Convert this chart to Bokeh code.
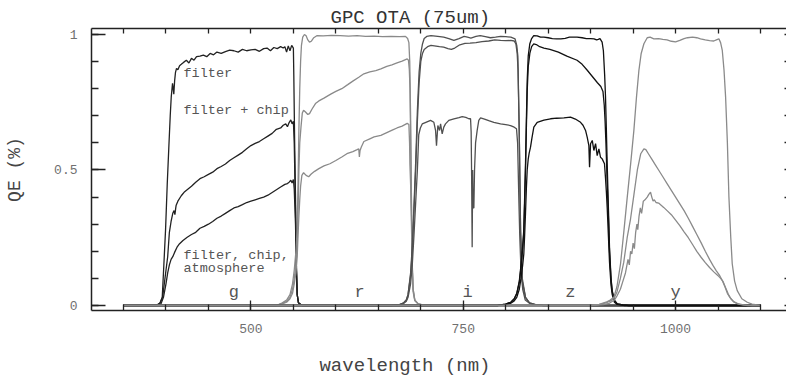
from bokeh.plotting import figure
from bokeh.layouts import column
from bokeh.models import Range1d, LinearAxis, SingleIntervalTicker, FixedTicker, CustomJSTickFormatter, Label, Title
from bokeh.embed import file_html
from bokeh.resources import INLINE

FONT = "Liberation Mono"

# ---------------- data (wavelength nm, QE fraction) ----------------
g_filter_nm = [350, 385, 390, 393, 395.6, 397.5, 399.5, 401.5, 403.3, 405, 406.2, 407.7, 408.5, 409.2, 410.2, 411.2, 412.4, 414, 416, 418, 421, 424, 427, 430, 433, 436, 440, 444, 448, 452, 456, 460, 465, 470, 475, 480, 485, 490, 495, 500, 505, 510, 515, 519, 523, 527, 531, 535, 538, 540, 542, 544, 546, 548, 550, 550.5, 551.5, 552.5, 553.5, 554.5, 556, 560, 570, 1100]
g_filter_qe = [0, 0, 0.003, 0.01, 0.03, 0.15, 0.28, 0.45, 0.58, 0.70, 0.77, 0.82, 0.80, 0.78, 0.83, 0.86, 0.875, 0.87, 0.885, 0.89, 0.898, 0.905, 0.895, 0.912, 0.905, 0.918, 0.92, 0.924, 0.918, 0.93, 0.925, 0.935, 0.93, 0.937, 0.942, 0.94, 0.935, 0.945, 0.94, 0.943, 0.945, 0.938, 0.948, 0.95, 0.94, 0.952, 0.948, 0.955, 0.95, 0.955, 0.935, 0.958, 0.94, 0.96, 0.95, 0.85, 0.6, 0.4, 0.15, 0.04, 0.01, 0, 0, 0]

g_chip_nm = [350, 388, 393, 396, 398, 400, 402, 404, 406, 408, 409.5, 410.5, 411.5, 412, 414, 418, 422, 426, 430, 435, 440, 445, 450, 455, 460, 465, 470, 475, 480, 485, 490, 495, 500, 505, 510, 515, 520, 525, 530, 535, 538, 541, 543, 545, 547, 548.5, 550, 551, 552.5, 553.5, 554.5, 556, 560, 1100]
g_chip_qe = [0, 0, 0.008, 0.03, 0.08, 0.13, 0.18, 0.27, 0.31, 0.34, 0.35, 0.335, 0.36, 0.37, 0.385, 0.405, 0.42, 0.43, 0.44, 0.455, 0.468, 0.475, 0.484, 0.492, 0.505, 0.513, 0.522, 0.535, 0.545, 0.555, 0.565, 0.578, 0.59, 0.598, 0.605, 0.615, 0.625, 0.635, 0.65, 0.655, 0.665, 0.67, 0.66, 0.675, 0.685, 0.67, 0.68, 0.6, 0.35, 0.15, 0.04, 0.01, 0, 0]

g_atm_nm = [350, 390, 394, 397, 400, 402, 404, 406, 408, 410, 413, 416, 420, 425, 430, 435, 440, 445, 450, 455, 460, 465, 470, 475, 480, 485, 490, 495, 500, 505, 510, 515, 520, 525, 530, 535, 540, 543, 545, 547, 548.5, 550, 551, 552.5, 553.5, 554.5, 556, 560, 1100]
g_atm_qe = [0, 0, 0.005, 0.03, 0.08, 0.12, 0.15, 0.17, 0.18, 0.195, 0.215, 0.228, 0.24, 0.252, 0.262, 0.27, 0.285, 0.292, 0.30, 0.31, 0.322, 0.33, 0.34, 0.35, 0.36, 0.365, 0.372, 0.38, 0.385, 0.39, 0.395, 0.40, 0.407, 0.417, 0.427, 0.437, 0.447, 0.45, 0.455, 0.462, 0.452, 0.465, 0.43, 0.3, 0.13, 0.04, 0.01, 0, 0]

r_filter_nm = [350, 530, 537, 542, 546, 549, 551, 553, 554.5, 555.5, 556.5, 557.5, 558.5, 559.5, 561, 563, 565, 567, 569, 571, 574, 578, 585, 595, 605, 615, 625, 635, 645, 655, 665, 675, 682, 684.5, 686, 687, 688, 689, 690, 691, 693, 697, 705, 1100]
r_filter_qe = [0, 0, 0.01, 0.02, 0.04, 0.08, 0.13, 0.2, 0.28, 0.45, 0.65, 0.8, 0.9, 0.96, 0.99, 1.0, 0.995, 0.98, 0.972, 0.975, 0.988, 0.996, 0.995, 0.997, 0.996, 0.994, 0.996, 0.993, 0.994, 0.992, 0.993, 0.992, 0.993, 0.985, 0.97, 0.9, 0.7, 0.4, 0.15, 0.06, 0.02, 0.006, 0, 0]

r_chip_nm = [350, 530, 537, 542, 546, 549, 551, 553, 554.5, 555.5, 556.5, 557.5, 559, 560.5, 562, 564, 567, 569, 572, 576, 580, 586, 594, 600, 607, 614, 620, 627, 633, 640, 647, 653, 660, 666, 672, 678, 684, 685.5, 686.5, 687.3, 688, 689, 690, 691, 693, 697, 705, 1100]
r_chip_qe = [0, 0, 0.008, 0.015, 0.03, 0.06, 0.1, 0.15, 0.22, 0.35, 0.5, 0.6, 0.66, 0.71, 0.72, 0.715, 0.705, 0.708, 0.725, 0.745, 0.755, 0.765, 0.78, 0.79, 0.80, 0.815, 0.828, 0.842, 0.855, 0.862, 0.867, 0.873, 0.882, 0.888, 0.895, 0.902, 0.91, 0.905, 0.87, 0.8, 0.62, 0.36, 0.14, 0.06, 0.02, 0.006, 0, 0]

r_atm_nm = [350, 530, 537, 542, 546, 549, 551, 553, 554.5, 555.5, 556.5, 557.5, 558.5, 560, 562, 565, 568, 571, 575, 580, 586, 593, 600, 607, 613, 620, 625, 627, 627.7, 628.5, 630, 633, 640, 645, 653, 660, 667, 672, 678, 684, 686, 686.8, 687.2, 688, 689, 690, 691, 693, 697, 705, 1100]
r_atm_qe = [0, 0, 0.006, 0.012, 0.025, 0.045, 0.08, 0.12, 0.18, 0.26, 0.33, 0.39, 0.44, 0.48, 0.49, 0.48, 0.475, 0.485, 0.495, 0.505, 0.515, 0.523, 0.535, 0.548, 0.56, 0.568, 0.575, 0.578, 0.548, 0.572, 0.585, 0.605, 0.615, 0.622, 0.628, 0.638, 0.648, 0.655, 0.662, 0.672, 0.668, 0.6, 0.52, 0.45, 0.3, 0.13, 0.05, 0.017, 0.005, 0, 0]

i_filter_nm = [350, 665, 675, 680, 683, 685, 688, 690, 692, 694, 696, 698, 700, 702, 704, 707, 712, 720, 727, 733, 739, 745, 751, 755, 759, 765, 770, 776, 782, 788, 794, 800, 806, 811, 813, 814.3, 815.9, 817.5, 819.5, 823.3, 828, 835, 845, 1100]
i_filter_qe = [0, 0, 0.003, 0.01, 0.02, 0.04, 0.12, 0.22, 0.37, 0.53, 0.72, 0.86, 0.93, 0.965, 0.985, 0.993, 0.996, 0.993, 0.99, 0.985, 0.978, 0.985, 0.993, 0.99, 0.987, 0.993, 0.996, 0.992, 0.988, 0.99, 0.993, 0.992, 0.99, 0.984, 0.96, 0.92, 0.65, 0.28, 0.1, 0.03, 0.01, 0.003, 0, 0]

i_chip_nm = [350, 665, 675, 680, 683, 685, 688, 690, 692, 694, 696, 698, 700, 702, 704, 708, 712, 716, 722, 727, 732, 736, 740, 746, 752, 758, 765, 772, 780, 787, 794, 800, 806, 810, 812, 813.5, 814.5, 815.9, 817.5, 819.5, 823.3, 828, 835, 845, 1100]
i_chip_qe = [0, 0, 0.003, 0.01, 0.02, 0.04, 0.11, 0.2, 0.35, 0.5, 0.68, 0.82, 0.9, 0.93, 0.945, 0.955, 0.96, 0.958, 0.955, 0.953, 0.948, 0.945, 0.95, 0.962, 0.967, 0.968, 0.97, 0.974, 0.976, 0.98, 0.978, 0.977, 0.978, 0.976, 0.965, 0.93, 0.87, 0.64, 0.27, 0.09, 0.03, 0.01, 0.003, 0, 0]

i_atm_nm = [350, 665, 675, 680, 683, 685, 688, 690, 692, 694, 696, 697.6, 699.5, 701.7, 706, 711.5, 715.4, 717.4, 718.5, 720.1, 722.1, 723.3, 725.2, 727.1, 729.1, 733, 739, 745, 748.8, 753, 756.6, 758.6, 759.3, 759.8, 760.5, 761.1, 761.6, 762.5, 763.3, 764.5, 766.4, 768.3, 770.4, 775, 780, 786, 793.9, 800, 805.7, 810, 812.7, 814, 815.4, 816.5, 818, 820, 823, 828, 835, 845, 1100]
i_atm_qe = [0, 0, 0.002, 0.008, 0.016, 0.03, 0.08, 0.15, 0.26, 0.38, 0.5, 0.63, 0.655, 0.67, 0.676, 0.683, 0.676, 0.646, 0.59, 0.664, 0.646, 0.67, 0.633, 0.658, 0.67, 0.683, 0.689, 0.693, 0.697, 0.694, 0.689, 0.689, 0.64, 0.5, 0.215, 0.5, 0.36, 0.36, 0.5, 0.6, 0.646, 0.683, 0.692, 0.688, 0.682, 0.676, 0.67, 0.667, 0.664, 0.658, 0.652, 0.6, 0.4, 0.26, 0.13, 0.06, 0.02, 0.008, 0.002, 0, 0]

z_filter_nm = [350, 790, 800, 806, 810, 813, 816, 818, 820, 821.3, 822.3, 823.3, 824.3, 825.3, 826.5, 828.4, 830.5, 833, 837, 841, 845, 850, 855, 860, 865, 870, 875, 880, 884, 890, 895, 900, 904, 907, 909, 911, 913.5, 915, 916.5, 917.5, 918.5, 919.5, 921, 922.2, 924, 925.4, 928, 931.3, 938, 945, 1100]
z_filter_qe = [0, 0, 0.005, 0.012, 0.025, 0.045, 0.09, 0.15, 0.22, 0.28, 0.4, 0.52, 0.68, 0.83, 0.92, 0.966, 0.985, 0.996, 0.995, 0.99, 0.99, 0.988, 0.985, 0.984, 0.984, 0.986, 0.99, 0.99, 0.99, 0.988, 0.985, 0.985, 0.984, 0.98, 0.982, 0.985, 0.972, 0.94, 0.85, 0.77, 0.65, 0.52, 0.35, 0.215, 0.1, 0.055, 0.02, 0.006, 0.002, 0, 0]

z_chip_nm = [350, 790, 800, 806, 810, 813, 816, 818, 820, 821.3, 822.3, 823.3, 824.3, 825.3, 826.5, 828.4, 830.5, 833, 836, 840, 845, 852, 862, 872, 884, 890, 896, 902, 908, 912, 914.5, 916, 917, 918, 919.5, 921, 922.2, 924, 925.4, 928, 931.3, 938, 945, 1100]
z_chip_qe = [0, 0, 0.005, 0.012, 0.024, 0.043, 0.085, 0.14, 0.21, 0.27, 0.38, 0.5, 0.65, 0.79, 0.88, 0.93, 0.955, 0.965, 0.963, 0.955, 0.95, 0.945, 0.935, 0.92, 0.905, 0.89, 0.868, 0.845, 0.822, 0.808, 0.79, 0.74, 0.68, 0.6, 0.45, 0.32, 0.2, 0.095, 0.05, 0.018, 0.006, 0.002, 0, 0]

z_atm_nm = [350, 790, 800, 806, 810, 813, 816, 818, 820, 821.3, 822.3, 823.3, 824.3, 825.3, 826.5, 827.5, 829.2, 831, 833.1, 837.1, 845, 852.8, 860, 868.5, 876.3, 882, 888.1, 891, 894, 896, 897.9, 898.7, 899.9, 901.9, 903.8, 905.8, 907.7, 909.7, 911.6, 913.6, 916.3, 917.5, 918.5, 919.5, 921, 922.2, 924, 925.4, 928, 931.3, 940, 1100]
z_atm_qe = [0, 0, 0.004, 0.008, 0.017, 0.03, 0.06, 0.1, 0.15, 0.19, 0.26, 0.34, 0.43, 0.5, 0.54, 0.56, 0.584, 0.62, 0.658, 0.676, 0.684, 0.689, 0.691, 0.692, 0.695, 0.688, 0.676, 0.665, 0.646, 0.62, 0.59, 0.51, 0.597, 0.609, 0.572, 0.597, 0.553, 0.578, 0.547, 0.541, 0.523, 0.47, 0.42, 0.36, 0.25, 0.16, 0.075, 0.04, 0.012, 0.004, 0, 0]

y_filter_nm = [350, 900, 910, 918, 923, 927.3, 931, 935.2, 939, 943.1, 947, 950.9, 954, 956.8, 959.5, 962.7, 966.6, 970, 974.4, 980, 985, 990, 995, 1000, 1005, 1010, 1014, 1020, 1025, 1029.4, 1035, 1040, 1045, 1048, 1051, 1053, 1055, 1057, 1058.9, 1061, 1062.8, 1065, 1066.7, 1069.5, 1072.6, 1078, 1084.4, 1090, 1096, 1100]
y_filter_qe = [0, 0, 0.004, 0.012, 0.02, 0.03, 0.07, 0.154, 0.27, 0.4, 0.52, 0.646, 0.77, 0.867, 0.93, 0.966, 0.988, 0.99, 0.984, 0.985, 0.982, 0.98, 0.975, 0.973, 0.978, 0.985, 0.988, 0.99, 0.988, 0.984, 0.98, 0.977, 0.976, 0.98, 0.984, 0.97, 0.941, 0.87, 0.769, 0.6, 0.4, 0.25, 0.154, 0.09, 0.055, 0.025, 0.012, 0.005, 0.002, 0]

y_chip_nm = [350, 900, 910, 918, 923, 927.3, 931, 935, 939, 943, 947, 951, 955, 959, 962.7, 965, 968, 972, 976, 980, 985, 990, 995, 1000, 1005, 1010, 1015, 1020, 1025, 1030, 1035, 1040, 1044, 1048, 1052, 1055, 1058, 1061, 1064, 1068, 1073, 1080, 1090, 1100]
y_chip_qe = [0, 0, 0.003, 0.01, 0.016, 0.025, 0.05, 0.1, 0.16, 0.25, 0.32, 0.41, 0.5, 0.56, 0.578, 0.575, 0.56, 0.54, 0.52, 0.5, 0.475, 0.45, 0.425, 0.4, 0.375, 0.35, 0.322, 0.292, 0.262, 0.232, 0.2, 0.17, 0.148, 0.128, 0.11, 0.092, 0.07, 0.045, 0.03, 0.015, 0.007, 0.002, 0, 0]

y_atm_nm = [350, 900, 915, 922, 928, 931, 935, 938, 941, 944, 945.5, 947, 948.5, 950, 951.5, 953, 954.5, 955.5, 957, 958.5, 960, 962, 964, 966.6, 968.5, 970.5, 972, 973.5, 975, 977, 980, 983, 986, 990, 995, 1000, 1005, 1010, 1015, 1020, 1025, 1030, 1035, 1040, 1045, 1050, 1053, 1056, 1059, 1062, 1065, 1069, 1075, 1085, 1100]
y_atm_qe = [0, 0, 0.003, 0.008, 0.02, 0.035, 0.06, 0.09, 0.12, 0.17, 0.15, 0.2, 0.19, 0.23, 0.21, 0.27, 0.3, 0.28, 0.33, 0.36, 0.34, 0.385, 0.39, 0.40, 0.41, 0.418, 0.4, 0.385, 0.39, 0.38, 0.378, 0.37, 0.362, 0.35, 0.335, 0.315, 0.295, 0.272, 0.25, 0.225, 0.2, 0.178, 0.158, 0.14, 0.124, 0.11, 0.1, 0.088, 0.065, 0.042, 0.025, 0.012, 0.004, 0, 0]

band_names = ["g", "r", "i", "z", "y"]
band_label_nm = [480, 628, 755, 876, 1000]
band_label_qe = [0.048, 0.048, 0.048, 0.048, 0.048]
band_colors = ["#222222", "#8a8a8a", "#505050", "#111111", "#8a8a8a"]

curves = [
    [(g_filter_nm, g_filter_qe), (g_chip_nm, g_chip_qe), (g_atm_nm, g_atm_qe)],
    [(r_filter_nm, r_filter_qe), (r_chip_nm, r_chip_qe), (r_atm_nm, r_atm_qe)],
    [(i_filter_nm, i_filter_qe), (i_chip_nm, i_chip_qe), (i_atm_nm, i_atm_qe)],
    [(z_filter_nm, z_filter_qe), (z_chip_nm, z_chip_qe), (z_atm_nm, z_atm_qe)],
    [(y_filter_nm, y_filter_qe), (y_chip_nm, y_chip_qe), (y_atm_nm, y_atm_qe)],
]

note_texts = ["filter", "filter + chip", "filter, chip,", "atmosphere"]
note_nm = [420.6, 420.6, 420.6, 420.6]
note_qe = [0.856, 0.72, 0.185, 0.135]

title_text = "GPC OTA (75um)"
x_label_text = "wavelength (nm)"
y_label_text = "QE (%)"

# axis ticks
x_major_interval = 250
x_minor_ticks = [350, 400, 450, 500, 550, 600, 650, 700, 750, 800, 850, 900, 950, 1000, 1050, 1100]
y_major_interval = 0.5
y_minor_ticks = [0, 0.1, 0.2, 0.3, 0.4, 0.5, 0.6, 0.7, 0.8, 0.9, 1.0]

# ---------------- main figure ----------------
xr = Range1d(312.3, 1130.6)
p = figure(width=786, height=352,
           x_range=xr, y_range=Range1d(-0.0185, 1.0221),
           x_axis_type=None, y_axis_type=None,
           output_backend="svg", toolbar_location=None,
           min_border_left=91, min_border_right=0, min_border_top=28, min_border_bottom=42,
           outline_line_color=None)

AX = "#222222"

def style_axis(ax):
    ax.axis_line_color = AX
    ax.axis_line_width = 1.5
    ax.major_tick_line_color = AX
    ax.minor_tick_line_color = AX
    ax.major_tick_line_width = 1.3
    ax.minor_tick_line_width = 1.3
    ax.major_tick_out = 0
    ax.minor_tick_out = 0
    ax.major_label_text_font = FONT
    ax.major_label_text_font_size = "13px"
    ax.major_label_text_color = "#707070"
    ax.axis_label_text_font = FONT
    ax.axis_label_text_font_size = "18px"
    ax.axis_label_text_font_style = "normal"
    ax.axis_label_text_color = "#444444"

xb = LinearAxis(ticker=SingleIntervalTicker(interval=x_major_interval, num_minor_ticks=5),
                formatter=CustomJSTickFormatter(code="return String(Math.round(tick))"))
style_axis(xb)
xb.major_tick_in = 10
xb.minor_tick_in = 6
xb.major_label_standoff = 13
p.add_layout(xb, "below")

xa = LinearAxis(ticker=FixedTicker(ticks=[], minor_ticks=x_minor_ticks))
style_axis(xa)
xa.minor_tick_in = 5
xa.major_label_standoff = 0
p.add_layout(xa, "above")

tt = Title(text=title_text, align="left", offset=239, standoff=0,
           text_font=FONT, text_font_size="19px", text_font_style="normal", text_color="#333333")
p.add_layout(tt, "above")

yl = LinearAxis(ticker=SingleIntervalTicker(interval=y_major_interval, num_minor_ticks=5),
                formatter=CustomJSTickFormatter(code="return String(Math.round(tick*10)/10)"),
                axis_label=y_label_text)
style_axis(yl)
yl.major_tick_in = 14
yl.minor_tick_in = 7
yl.major_label_standoff = 14
yl.axis_label_standoff = 26
p.add_layout(yl, "left")

yr = LinearAxis(ticker=FixedTicker(ticks=[], minor_ticks=y_minor_ticks))
style_axis(yr)
yr.axis_line_color = None
yr.minor_tick_in = 2
yr.major_label_standoff = 0
p.add_layout(yr, "right")

for band, color in zip(curves, band_colors):
    for nm, qe in band:
        p.line(nm, qe, line_color=color, line_width=1.3)

for t, x, y in zip(band_names, band_label_nm, band_label_qe):
    p.add_layout(Label(x=x, y=y, text=t, text_font=FONT, text_font_size="17px",
                       text_color="#555555", text_align="center", text_baseline="middle"))

for t, x, y in zip(note_texts, note_nm, note_qe):
    p.add_layout(Label(x=x, y=y, text=t, text_font=FONT, text_font_size="13.5px",
                       text_color="#555555", text_align="left", text_baseline="middle"))

# ---------------- strip below holding the x-axis title (frame aligned with main plot) ----------------
q = figure(width=786, height=24, x_range=xr, y_range=Range1d(0, 24),
           x_axis_type=None, y_axis_type=None, output_backend="svg", toolbar_location=None,
           min_border_left=91, min_border_right=0, min_border_top=0, min_border_bottom=0,
           outline_line_color=None)
q.add_layout(Label(x=681.4, y=11, text=x_label_text, text_font=FONT, text_font_size="19px",
                   text_color="#444444", text_align="center", text_baseline="middle"))

layout = column(p, q, spacing=0)
open("out.html", "w").write(file_html(layout, INLINE))
